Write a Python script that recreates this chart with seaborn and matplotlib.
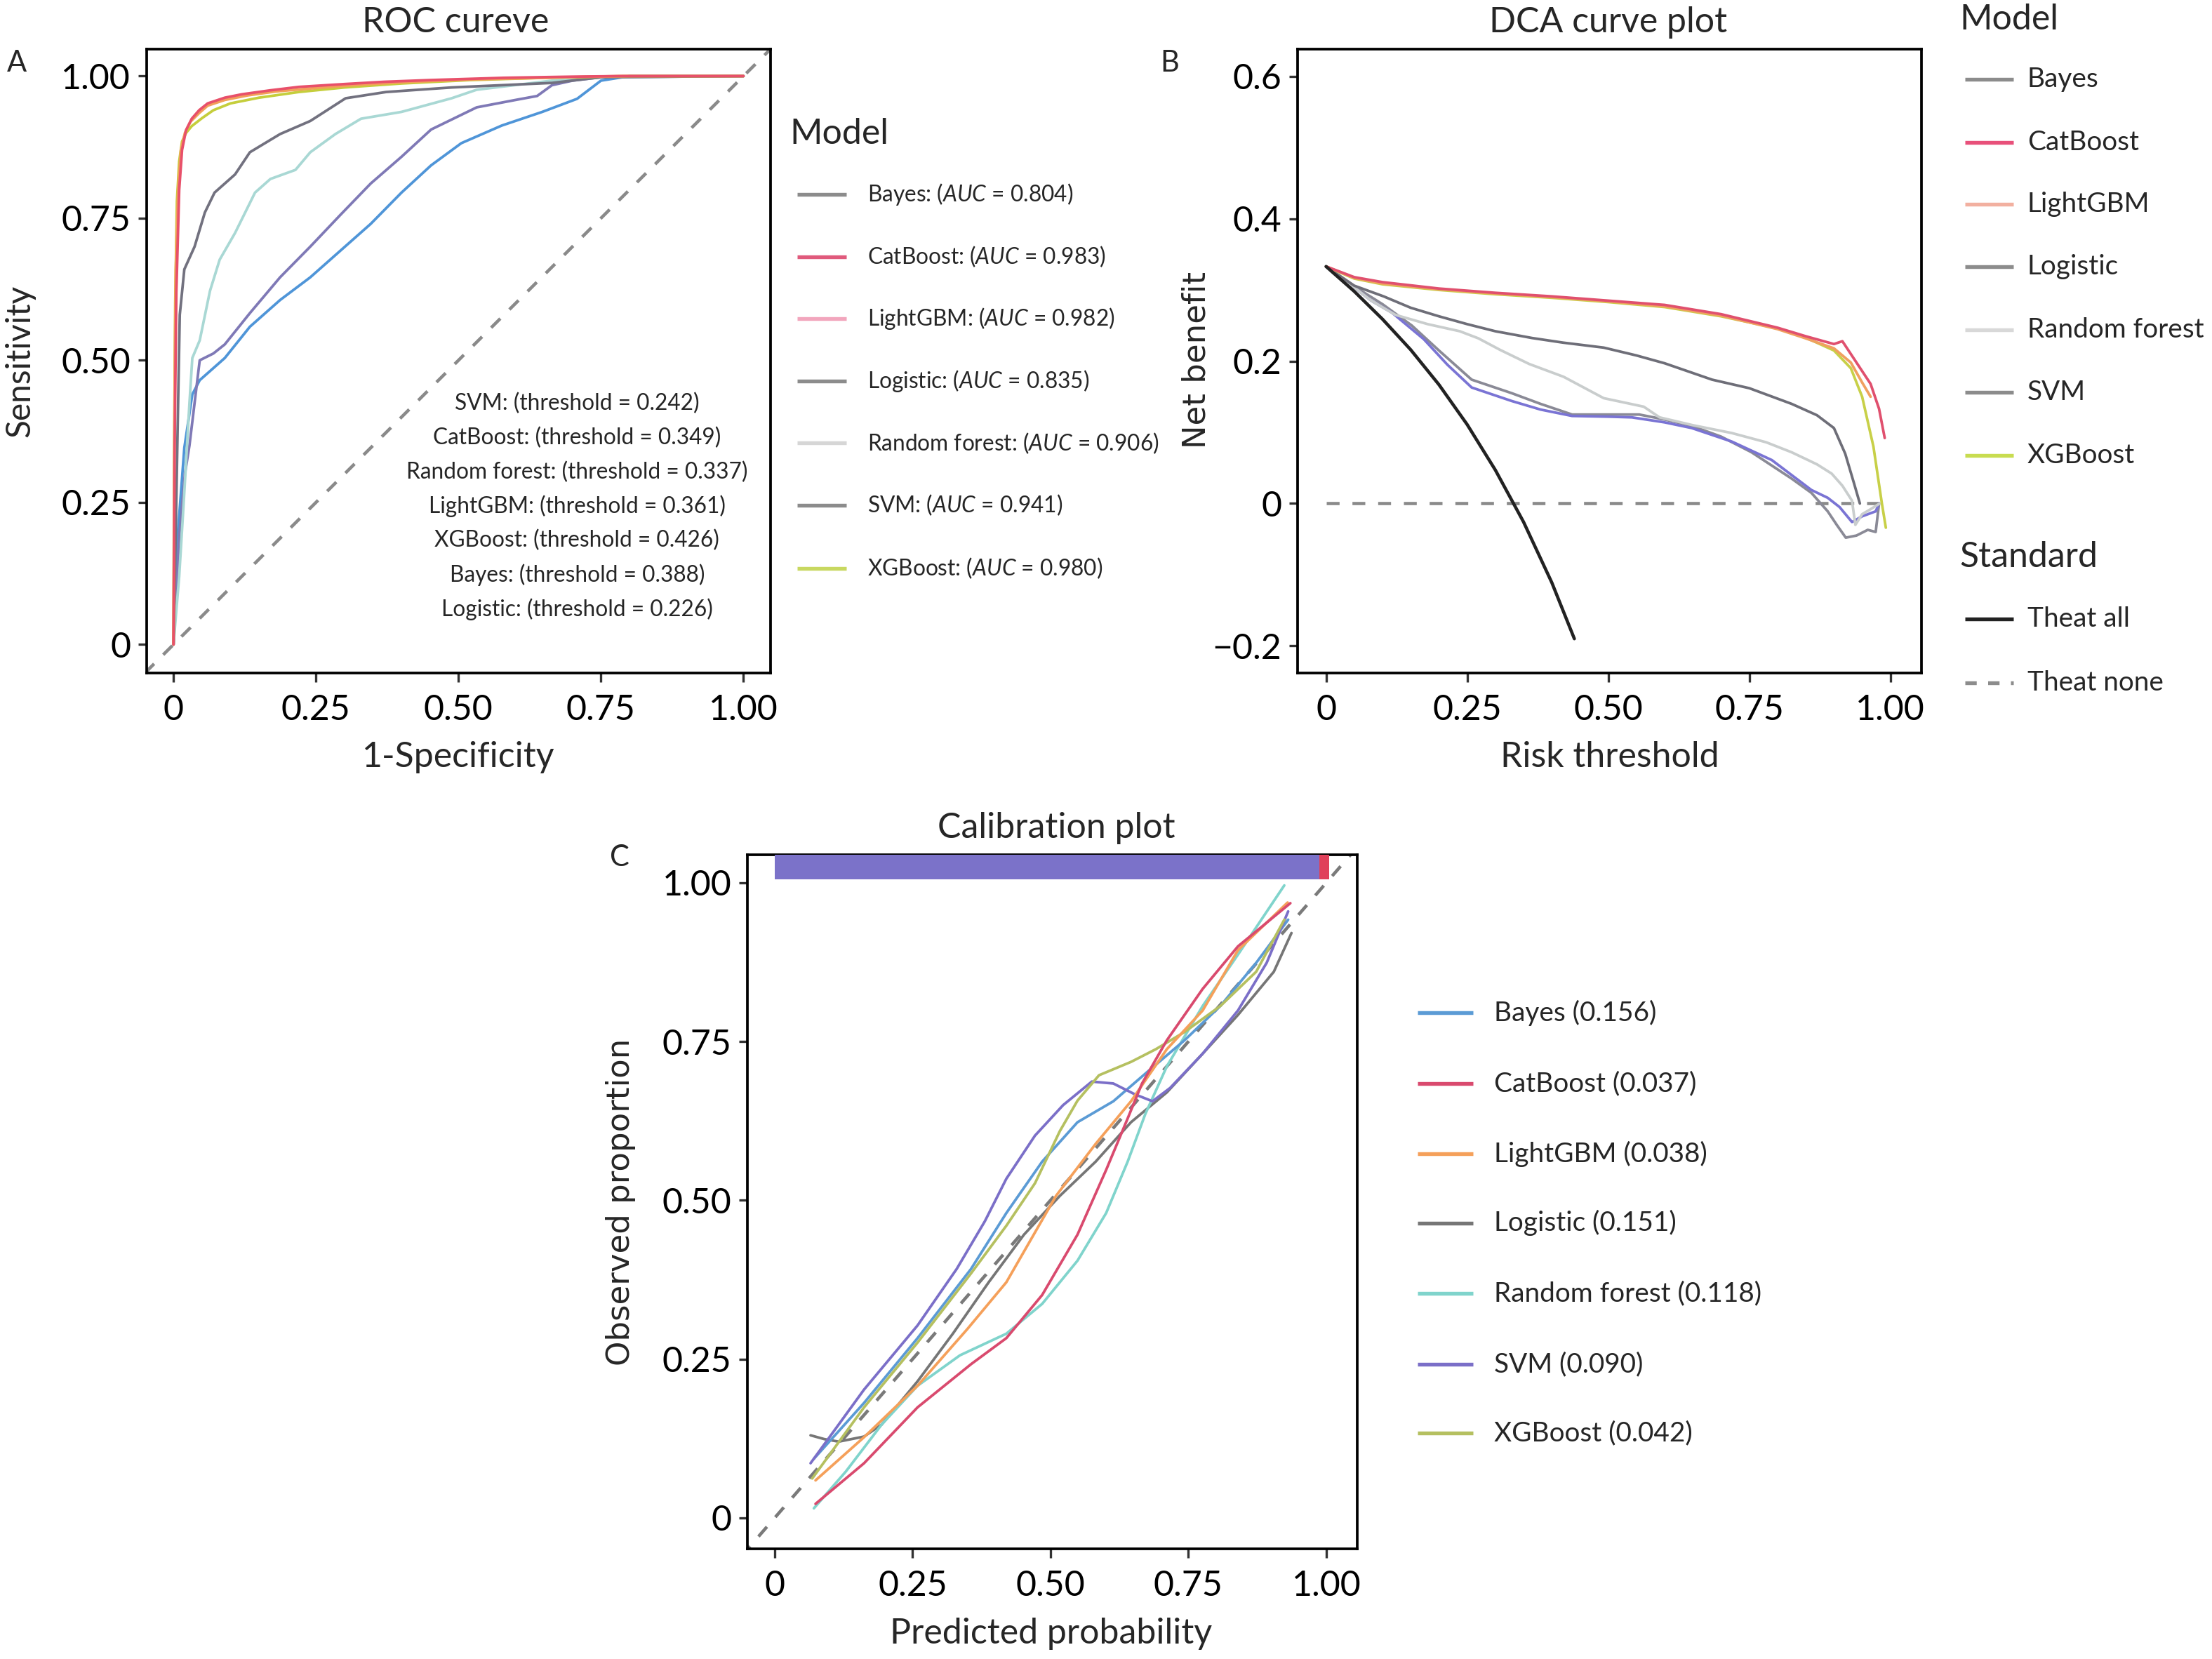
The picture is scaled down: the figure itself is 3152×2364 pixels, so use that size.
import numpy as np
import pandas as pd
import matplotlib
matplotlib.use("Agg")
import matplotlib.pyplot as plt
from matplotlib.lines import Line2D
import seaborn as sns

# ---------------- data ----------------
models = ["Bayes", "CatBoost", "LightGBM", "Logistic", "Random forest", "SVM", "XGBoost"]
auc_values = [0.804, 0.983, 0.982, 0.835, 0.906, 0.941, 0.980]
thr_models = ["SVM", "CatBoost", "Random forest", "LightGBM", "XGBoost", "Bayes", "Logistic"]
thr_values = [0.242, 0.349, 0.337, 0.361, 0.426, 0.388, 0.226]
cal_scores = [0.156, 0.037, 0.038, 0.151, 0.118, 0.090, 0.042]
ticks01 = [0, 0.25, 0.50, 0.75, 1.00]
tick01_labels = ["0", "0.25", "0.50", "0.75", "1.00"]
dca_yticks = [-0.2, 0, 0.2, 0.4, 0.6]
dca_ylabels = ["\u22120.2", "0", "0.2", "0.4", "0.6"]

# ROC curves (false positive rate, true positive rate)
roc_bayes_fpr = [0, 0.008, 0.019, 0.033, 0.046, 0.09, 0.134, 0.187, 0.24, 0.293, 0.346, 0.40, 0.452, 0.505, 0.576, 0.647, 0.708, 0.75, 0.80, 1.0]
roc_bayes_tpr = [0, 0.20, 0.346, 0.44, 0.465, 0.504, 0.559, 0.606, 0.646, 0.693, 0.74, 0.795, 0.843, 0.882, 0.913, 0.937, 0.96, 0.992, 1.0, 1.0]
roc_cat_fpr = [0, 0.002, 0.005, 0.010, 0.015, 0.022, 0.032, 0.045, 0.06, 0.09, 0.12, 0.17, 0.22, 0.30, 0.37, 0.45, 0.58, 0.70, 0.79, 1.0]
roc_cat_tpr = [0, 0.35, 0.62, 0.80, 0.87, 0.905, 0.925, 0.94, 0.952, 0.962, 0.968, 0.975, 0.981, 0.986, 0.99, 0.993, 0.997, 0.999, 1.0, 1.0]
roc_lgb_fpr = [0, 0.002, 0.004, 0.008, 0.013, 0.02, 0.03, 0.045, 0.06, 0.09, 0.13, 0.18, 0.25, 0.33, 0.42, 0.52, 0.65, 0.78, 1.0]
roc_lgb_tpr = [0, 0.45, 0.66, 0.80, 0.87, 0.90, 0.92, 0.935, 0.948, 0.958, 0.966, 0.973, 0.979, 0.985, 0.99, 0.994, 0.997, 1.0, 1.0]
roc_log_fpr = [0, 0.01, 0.02, 0.028, 0.04, 0.046, 0.07, 0.09, 0.134, 0.187, 0.24, 0.293, 0.346, 0.40, 0.452, 0.532, 0.60, 0.638, 0.664, 0.70, 0.75, 1.0]
roc_log_tpr = [0, 0.19, 0.30, 0.35, 0.45, 0.50, 0.512, 0.528, 0.583, 0.646, 0.70, 0.756, 0.811, 0.858, 0.906, 0.945, 0.958, 0.965, 0.984, 0.992, 0.998, 1.0]
roc_rf_fpr = [0, 0.01, 0.019, 0.028, 0.033, 0.046, 0.064, 0.081, 0.108, 0.143, 0.17, 0.214, 0.24, 0.284, 0.329, 0.40, 0.488, 0.532, 0.664, 0.75, 1.0]
roc_rf_tpr = [0, 0.12, 0.268, 0.425, 0.504, 0.535, 0.622, 0.677, 0.724, 0.795, 0.819, 0.835, 0.866, 0.898, 0.925, 0.937, 0.961, 0.976, 0.992, 0.998, 1.0]
roc_svm_fpr = [0, 0.004, 0.008, 0.011, 0.019, 0.037, 0.055, 0.072, 0.108, 0.134, 0.187, 0.24, 0.302, 0.373, 0.488, 0.664, 0.75, 1.0]
roc_svm_tpr = [0, 0.20, 0.42, 0.58, 0.66, 0.70, 0.76, 0.795, 0.827, 0.866, 0.898, 0.921, 0.961, 0.972, 0.98, 0.988, 0.998, 1.0]
roc_xgb_fpr = [0, 0.001, 0.003, 0.006, 0.010, 0.015, 0.022, 0.032, 0.05, 0.07, 0.10, 0.15, 0.22, 0.30, 0.40, 0.52, 0.65, 0.80, 1.0]
roc_xgb_tpr = [0, 0.30, 0.60, 0.78, 0.85, 0.885, 0.90, 0.912, 0.926, 0.94, 0.952, 0.962, 0.972, 0.98, 0.987, 0.993, 0.997, 1.0, 1.0]

# DCA curves (risk threshold, net benefit)
dca_bayes_t = [0, 0.046, 0.08, 0.117, 0.173, 0.215, 0.258, 0.329, 0.38, 0.436, 0.5, 0.542, 0.6, 0.648, 0.719, 0.79, 0.86, 0.889, 0.91, 0.932, 0.95, 0.974, 0.98]
dca_bayes_nb = [0.333, 0.306, 0.285, 0.268, 0.231, 0.195, 0.163, 0.144, 0.132, 0.123, 0.122, 0.121, 0.114, 0.106, 0.087, 0.061, 0.019, 0.008, -0.005, -0.026, -0.018, -0.011, 0.0]
dca_cat_t = [0, 0.05, 0.1, 0.2, 0.3, 0.4, 0.5, 0.6, 0.7, 0.8, 0.85, 0.9, 0.915, 0.94, 0.965, 0.98, 0.99]
dca_cat_nb = [0.333, 0.318, 0.311, 0.302, 0.296, 0.291, 0.285, 0.279, 0.266, 0.247, 0.235, 0.224, 0.228, 0.198, 0.168, 0.133, 0.092]
dca_lgb_t = [0, 0.05, 0.1, 0.2, 0.3, 0.4, 0.5, 0.6, 0.7, 0.8, 0.85, 0.9, 0.93, 0.95, 0.965]
dca_lgb_nb = [0.333, 0.317, 0.309, 0.301, 0.295, 0.29, 0.284, 0.277, 0.264, 0.245, 0.232, 0.218, 0.198, 0.17, 0.15]
dca_log_t = [0, 0.05, 0.1, 0.152, 0.2, 0.258, 0.329, 0.38, 0.436, 0.5, 0.555, 0.6, 0.648, 0.7, 0.754, 0.825, 0.86, 0.889, 0.905, 0.921, 0.94, 0.96, 0.974, 0.98]
dca_log_nb = [0.333, 0.305, 0.28, 0.25, 0.215, 0.174, 0.155, 0.14, 0.125, 0.125, 0.125, 0.118, 0.109, 0.094, 0.072, 0.035, 0.015, -0.011, -0.03, -0.048, -0.045, -0.037, -0.04, 0.0]
dca_rf_t = [0, 0.046, 0.08, 0.123, 0.18, 0.237, 0.27, 0.308, 0.36, 0.421, 0.492, 0.563, 0.591, 0.65, 0.719, 0.78, 0.825, 0.87, 0.896, 0.915, 0.932, 0.938, 0.95, 0.965, 0.981]
dca_rf_nb = [0.333, 0.306, 0.285, 0.265, 0.252, 0.242, 0.232, 0.216, 0.196, 0.178, 0.148, 0.136, 0.121, 0.11, 0.099, 0.086, 0.072, 0.055, 0.042, 0.025, 0.004, -0.03, -0.015, -0.008, 0.0]
dca_svm_t = [0, 0.05, 0.102, 0.15, 0.2, 0.25, 0.3, 0.365, 0.42, 0.492, 0.55, 0.6, 0.684, 0.75, 0.825, 0.87, 0.90, 0.92, 0.935, 0.946]
dca_svm_nb = [0.333, 0.306, 0.291, 0.275, 0.263, 0.252, 0.242, 0.2325, 0.226, 0.219, 0.208, 0.197, 0.174, 0.162, 0.14, 0.124, 0.106, 0.07, 0.03, 0.0]
dca_xgb_t = [0, 0.05, 0.1, 0.2, 0.3, 0.4, 0.5, 0.6, 0.7, 0.8, 0.85, 0.9, 0.93, 0.95, 0.97, 0.985, 0.992]
dca_xgb_nb = [0.333, 0.316, 0.308, 0.300, 0.294, 0.289, 0.283, 0.276, 0.263, 0.246, 0.233, 0.215, 0.19, 0.15, 0.08, 0.0, -0.034]
dca_all_t = [0, 0.05, 0.1, 0.15, 0.2, 0.25, 0.3, 0.35, 0.4, 0.44]
dca_all_nb = [0.333, 0.298, 0.259, 0.216, 0.167, 0.111, 0.047, -0.026, -0.111, -0.19]
dca_none_t = [0, 0.99]
dca_none_nb = [0, 0]

# Calibration curves (predicted probability, observed proportion)
cal_bayes_x = [0.071, 0.162, 0.259, 0.356, 0.42, 0.485, 0.549, 0.614, 0.678, 0.743, 0.808, 0.873, 0.931]
cal_bayes_y = [0.093, 0.181, 0.283, 0.392, 0.48, 0.561, 0.623, 0.656, 0.704, 0.752, 0.806, 0.874, 0.942]
cal_cat_x = [0.074, 0.162, 0.259, 0.356, 0.42, 0.485, 0.549, 0.601, 0.64, 0.666, 0.711, 0.776, 0.84, 0.935]
cal_cat_y = [0.022, 0.086, 0.174, 0.242, 0.283, 0.351, 0.446, 0.548, 0.629, 0.684, 0.752, 0.833, 0.90, 0.968]
cal_lgb_x = [0.074, 0.162, 0.259, 0.349, 0.42, 0.51, 0.582, 0.646, 0.711, 0.776, 0.84, 0.93]
cal_lgb_y = [0.059, 0.127, 0.208, 0.297, 0.371, 0.507, 0.589, 0.656, 0.738, 0.799, 0.894, 0.969]
cal_log_x = [0.065, 0.09, 0.116, 0.162, 0.194, 0.259, 0.323, 0.388, 0.452, 0.517, 0.582, 0.646, 0.711, 0.776, 0.84, 0.905, 0.937]
cal_log_y = [0.130, 0.124, 0.120, 0.128, 0.147, 0.215, 0.29, 0.371, 0.446, 0.507, 0.561, 0.623, 0.67, 0.731, 0.792, 0.86, 0.921]
cal_rf_x = [0.071, 0.129, 0.194, 0.259, 0.336, 0.42, 0.485, 0.549, 0.601, 0.64, 0.672, 0.711, 0.776, 0.84, 0.924]
cal_rf_y = [0.015, 0.073, 0.147, 0.208, 0.256, 0.29, 0.337, 0.405, 0.48, 0.561, 0.636, 0.711, 0.806, 0.887, 0.996]
cal_svm_x = [0.065, 0.162, 0.259, 0.33, 0.381, 0.42, 0.472, 0.523, 0.575, 0.614, 0.653, 0.685, 0.717, 0.776, 0.84, 0.892, 0.931]
cal_svm_y = [0.086, 0.202, 0.303, 0.392, 0.467, 0.534, 0.602, 0.65, 0.687, 0.684, 0.667, 0.656, 0.677, 0.731, 0.799, 0.874, 0.955]
cal_xgb_x = [0.068, 0.162, 0.259, 0.356, 0.42, 0.472, 0.517, 0.549, 0.588, 0.646, 0.691, 0.743, 0.808, 0.873, 0.924]
cal_xgb_y = [0.062, 0.174, 0.276, 0.385, 0.46, 0.527, 0.609, 0.657, 0.697, 0.718, 0.738, 0.765, 0.806, 0.86, 0.942]
# rug band of predicted probabilities at the top of the calibration panel
rug_left = [0.0, 0.988]
rug_width = [0.988, 0.017]

# ---------------- styles ----------------
roc_colors = {"Bayes": "#4f95d8", "CatBoost": "#e8506a", "LightGBM": "#f2a05a", "Logistic": "#7f79b6",
              "Random forest": "#a9d8d4", "SVM": "#72717f", "XGBoost": "#c5ce3c"}
roc_key_colors = ["#8c8c8c", "#e05a7c", "#f2a6bd", "#8c8c8c", "#d6d6d6", "#8c8c8c", "#c8d860"]
dca_colors = {"Bayes": "#7a74d4", "CatBoost": "#e0506e", "LightGBM": "#f0a060", "Logistic": "#8a8a96",
              "Random forest": "#c9cdcd", "SVM": "#6e6e78", "XGBoost": "#c8d048"}
dca_key_colors = ["#8c8c8c", "#e8507a", "#f2b0a0", "#8c8c8c", "#d8d8d8", "#8c8c8c", "#c8dc50"]
cal_colors = {"Bayes": "#5b9bd5", "CatBoost": "#d94a6e", "LightGBM": "#f5a05a", "Logistic": "#767676",
              "Random forest": "#80d4cc", "SVM": "#7b6fc8", "XGBoost": "#b5c060"}

sns.set_theme(style="white")
plt.rcParams["font.family"] = ["Lato", "DejaVu Sans"]
plt.rcParams["mathtext.fontset"] = "custom"
plt.rcParams["mathtext.rm"] = "Lato"
plt.rcParams["mathtext.it"] = "Lato:italic"

W, H = 1568.0, 1176.0
def fx(x):
    return x / W
def fy(y):
    return 1 - y / H

fig = plt.figure(figsize=(3152 / 300, 2364 / 300), dpi=300)
fig.patch.set_facecolor("white")
axA = fig.add_axes([fx(104), fy(477), (546 - 104) / W, (477 - 35) / H])
axB = fig.add_axes([fx(920), fy(477), (1362 - 920) / W, (477 - 35) / H])
axC = fig.add_axes([fx(530), fy(1098), (962 - 530) / W, (1098 - 606) / H])

def style_axes(ax):
    for s in ax.spines.values():
        s.set_visible(True)
        s.set_color("black")
        s.set_linewidth(0.9)
    ax.tick_params(axis="both", which="both", direction="out", length=3, width=0.8,
                   color="#333333", labelsize=12, bottom=True, left=True,
                   labelcolor="black")
    ax.tick_params(axis="x", pad=4.2)
    ax.tick_params(axis="y", pad=2.5)
    ax.set_xlabel("")
    ax.set_ylabel("")
    ax.set_facecolor("white")

def long_df(xs, ys, names):
    rows = []
    for name, x, y in zip(names, xs, ys):
        for i, (a, b) in enumerate(zip(x, y)):
            rows.append((name, i, a, b))
    return pd.DataFrame(rows, columns=["model", "order", "x", "y"])

# ---------------- panel A : ROC ----------------
roc_order = ["Bayes", "Logistic", "Random forest", "SVM", "XGBoost", "LightGBM", "CatBoost"]
roc_map = {"Bayes": (roc_bayes_fpr, roc_bayes_tpr), "CatBoost": (roc_cat_fpr, roc_cat_tpr),
           "LightGBM": (roc_lgb_fpr, roc_lgb_tpr), "Logistic": (roc_log_fpr, roc_log_tpr),
           "Random forest": (roc_rf_fpr, roc_rf_tpr), "SVM": (roc_svm_fpr, roc_svm_tpr),
           "XGBoost": (roc_xgb_fpr, roc_xgb_tpr)}
df_roc = long_df([roc_map[m][0] for m in roc_order], [roc_map[m][1] for m in roc_order], roc_order)
axA.plot([-0.05, 1.05], [-0.05, 1.05], ls=(0, (4, 4)), color="#8a8a8a", lw=1.1, zorder=1)
sns.lineplot(data=df_roc, x="x", y="y", hue="model", hue_order=roc_order, palette=roc_colors,
             estimator=None, sort=False, units="model", lw=0.9, legend=False, ax=axA)
axA.set_xlim(-0.047, 1.047)
axA.set_ylim(-0.05, 1.047)
axA.set_xticks(ticks01)
axA.set_xticklabels(tick01_labels)
axA.set_yticks(ticks01)
axA.set_yticklabels(tick01_labels)
style_axes(axA)
thr_y = [0.424, 0.364, 0.303, 0.243, 0.183, 0.122, 0.062]
for m, v, yy in zip(thr_models, thr_values, thr_y):
    axA.text(0.708, yy, f"{m}: (threshold = {v:.3f})", ha="center", va="center", fontsize=7.6)

# ---------------- panel B : DCA ----------------
dca_order = ["Logistic", "Bayes", "Random forest", "SVM", "XGBoost", "LightGBM", "CatBoost"]
dca_map = {"Bayes": (dca_bayes_t, dca_bayes_nb), "CatBoost": (dca_cat_t, dca_cat_nb),
           "LightGBM": (dca_lgb_t, dca_lgb_nb), "Logistic": (dca_log_t, dca_log_nb),
           "Random forest": (dca_rf_t, dca_rf_nb), "SVM": (dca_svm_t, dca_svm_nb),
           "XGBoost": (dca_xgb_t, dca_xgb_nb)}
df_dca = long_df([dca_map[m][0] for m in dca_order], [dca_map[m][1] for m in dca_order], dca_order)
sns.lineplot(x=dca_none_t, y=dca_none_nb, color="#8a8a8a", lw=1.1, ax=axB,
             linestyle=(0, (4, 4)))
sns.lineplot(data=df_dca, x="x", y="y", hue="model", hue_order=dca_order, palette=dca_colors,
             estimator=None, sort=False, units="model", lw=0.9, legend=False, ax=axB)
sns.lineplot(x=dca_all_t, y=dca_all_nb, color="#222222", lw=1.1, ax=axB, sort=False)
axB.set_xlim(-0.05, 1.055)
axB.set_ylim(-0.238, 0.638)
axB.set_xticks(ticks01)
axB.set_xticklabels(tick01_labels)
axB.set_yticks(dca_yticks)
axB.set_yticklabels(dca_ylabels)
style_axes(axB)

# ---------------- panel C : calibration ----------------
cal_order = ["Logistic", "Random forest", "Bayes", "SVM", "XGBoost", "LightGBM", "CatBoost"]
cal_map = {"Bayes": (cal_bayes_x, cal_bayes_y), "CatBoost": (cal_cat_x, cal_cat_y),
           "LightGBM": (cal_lgb_x, cal_lgb_y), "Logistic": (cal_log_x, cal_log_y),
           "Random forest": (cal_rf_x, cal_rf_y), "SVM": (cal_svm_x, cal_svm_y),
           "XGBoost": (cal_xgb_x, cal_xgb_y)}
df_cal = long_df([cal_map[m][0] for m in cal_order], [cal_map[m][1] for m in cal_order], cal_order)
axC.plot([-0.06, 1.06], [-0.06, 1.06], ls=(0, (4, 4)), color="#7a7a7a", lw=1.1, zorder=1)
sns.lineplot(data=df_cal, x="x", y="y", hue="model", hue_order=cal_order, palette=cal_colors,
             estimator=None, sort=False, units="model", lw=0.9, legend=False, ax=axC)
axC.barh([1.025, 1.025], rug_width, left=rug_left, height=0.038,
         color=["#7b72c9", "#e0405a"], edgecolor="none", zorder=3)
axC.set_xlim(-0.049, 1.056)
axC.set_ylim(-0.049, 1.044)
axC.set_xticks(ticks01)
axC.set_xticklabels(tick01_labels)
axC.set_yticks(ticks01)
axC.set_yticklabels(tick01_labels)
style_axes(axC)

# ---------------- titles, labels, panel letters ----------------
fig.text(fx(323), fy(16), "ROC cureve", ha="center", va="center", fontsize=12)
fig.text(fx(1140), fy(16), "DCA curve plot", ha="center", va="center", fontsize=12)
fig.text(fx(749), fy(587), "Calibration plot", ha="center", va="center", fontsize=12)
fig.text(fx(12), fy(45), "A", ha="center", va="center", fontsize=10)
fig.text(fx(829), fy(45), "B", ha="center", va="center", fontsize=10)
fig.text(fx(439), fy(608), "C", ha="center", va="center", fontsize=10)
fig.text(fx(325), fy(537), "1-Specificity", ha="center", va="center", fontsize=12)
fig.text(fx(1141), fy(537), "Risk threshold", ha="center", va="center", fontsize=12)
fig.text(fx(745), fy(1158), "Predicted probability", ha="center", va="center", fontsize=12)
fig.text(fx(14), fy(256), "Sensitivity", ha="center", va="center", rotation=90, fontsize=11.5)
fig.text(fx(848), fy(255), "Net benefit", ha="center", va="center", rotation=90, fontsize=10.8,
         family="DejaVu Sans")
fig.text(fx(440), fy(852), "Observed proportion", ha="center", va="center", rotation=90,
         fontsize=10.8, family="DejaVu Sans")

def key(x0, x1, y, color, ls="-", lw=1.3):
    fig.add_artist(Line2D([fx(x0), fx(x1)], [fy(y), fy(y)], transform=fig.transFigure,
                          color=color, lw=lw, ls=ls, solid_capstyle="butt"))

# legend A
fig.text(fx(560), fy(95), "Model", ha="left", va="center", fontsize=12)
rowsA = [138, 182, 226, 270, 314, 358, 403]
for m, a, c, yy in zip(models, auc_values, roc_key_colors, rowsA):
    key(565, 600, yy, c)
    fig.text(fx(615), fy(yy), f"{m}: ($\\mathit{{AUC}}$ = {a:.3f})", ha="left", va="center",
             fontsize=7.6)

# legend B
fig.text(fx(1389), fy(14), "Model", ha="left", va="center", fontsize=12)
rowsB = [56, 101, 145, 189, 234, 278, 323]
for m, c, yy in zip(models, dca_key_colors, rowsB):
    key(1393, 1427, yy, c)
    fig.text(fx(1437), fy(yy), m, ha="left", va="center", fontsize=9.3)
fig.text(fx(1389), fy(395), "Standard", ha="left", va="center", fontsize=12)
key(1393, 1427, 439, "#222222")
fig.text(fx(1437), fy(439), "Theat all", ha="left", va="center", fontsize=9.3)
key(1393, 1427, 484, "#8c8c8c", ls=(0, (3, 3)))
fig.text(fx(1437), fy(484), "Theat none", ha="left", va="center", fontsize=9.3)

# legend C
rowsC = [718, 768, 818, 867, 917, 967, 1016]
for m, s, yy in zip(models, cal_scores, rowsC):
    key(1005, 1044, yy, cal_colors[m])
    fig.text(fx(1059), fy(yy), f"{m} ({s:.3f})", ha="left", va="center", fontsize=9.3)

fig.savefig("out.png", dpi=300, facecolor="white")
